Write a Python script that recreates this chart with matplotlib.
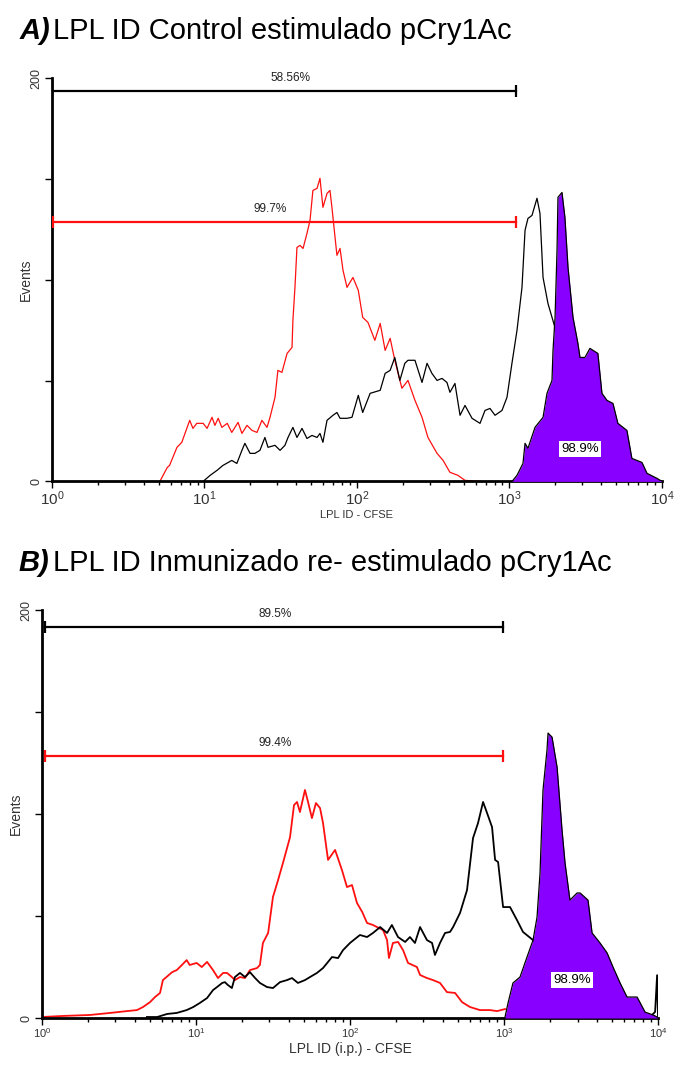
import numpy as np
import matplotlib
matplotlib.use("Agg")
import matplotlib.pyplot as plt

plt.rcParams['font.family'] = ['Liberation Sans', 'DejaVu Sans']
plt.rcParams['mathtext.fontset'] = 'custom'
plt.rcParams['mathtext.rm'] = 'Liberation Sans'
plt.rcParams['mathtext.it'] = 'Liberation Sans:italic'

PURPLE = '#8800ff'
RED = '#ff1010'

# ---- Panel A: LPL ID Control estimulado pCry1Ac ----
a_red_x = [5.1, 5.7, 5.9, 6.6, 7.1, 7.7, 8.0, 8.4, 8.9, 9.8, 10.4, 11.2, 11.7, 12.3, 13.0,
           14.1, 15.1, 16.6, 17.6, 19.0, 20.5, 22.1, 23.8, 25.7, 26.9, 29.0, 30.3, 32.2,
           34.8, 37.5, 38.0, 39.2, 40.4, 42.3, 44.3, 47.0, 49.2, 51.4, 54.7, 57.2, 59.8,
           63.6, 66.5, 68.5, 71.8, 73.9, 77.4, 81.0, 86.0, 94.1, 102, 109, 118, 131, 142,
           153, 165, 177, 197, 216, 240, 267, 292, 335, 367, 407, 459, 511, 640]
a_red_y = [0, 6.9, 7.9, 16.9, 19.4, 26.8, 30.3, 26.3, 28.8, 28.8, 26.3, 31.8, 27.8, 31.3,
           26.8, 28.8, 24.3, 29.3, 23.8, 27.8, 25.3, 24.3, 30.3, 26.8, 31.8, 41.7, 55.1,
           54.1, 63.5, 66.5, 79.9, 96.3, 116.1, 117.1, 115.6, 123.1, 129.5, 144.4, 145.4,
           150.4, 136.0, 142.9, 144.4, 136.0, 121.1, 112.2, 115.6, 104.7, 96.3, 101.2, 94.8,
           81.4, 78.9, 70.0, 78.4, 65.0, 71.0, 60.1, 46.2, 50.1, 40.2, 31.8, 21.8, 13.9,
           10.4, 4.5, 3.0, 0.5, 0]

a_blk_x = [9.8, 10.9, 12.1, 13.2, 15.1, 16.3, 17.6, 18.4, 19.9, 21.4, 23.1, 24.9, 26.1,
           29.0, 31.3, 33.7, 35.3, 38.0, 40.4, 43.6, 47.0, 50.7, 54.7, 57.2, 59.8, 63.6,
           69.6, 73.9, 77.4, 86.0, 92.7, 102, 109, 122, 142, 153, 165, 177, 191, 206, 216,
           240, 267, 288, 310, 335, 361, 389, 407, 439, 474, 511, 568, 641, 691, 745, 804,
           893, 963, 1038, 1120, 1208, 1265, 1322, 1405, 1515, 1585, 1660, 1788, 1987, 2310,
           2900, 3640]
a_blk_y = [0, 3.0, 5.5, 7.9, 10.4, 8.9, 15.4, 18.9, 13.9, 13.9, 15.4, 21.8, 16.9, 17.9,
           15.4, 17.9, 21.8, 26.8, 21.8, 26.3, 21.3, 22.8, 21.8, 23.8, 19.4, 30.3, 32.8,
           34.2, 31.3, 31.3, 31.8, 42.7, 34.2, 43.7, 45.2, 53.6, 55.1, 61.5, 50.1, 58.6,
           60.1, 60.1, 49.1, 58.6, 53.6, 50.1, 51.1, 49.1, 44.2, 48.6, 32.8, 37.7, 31.3,
           28.8, 35.2, 36.2, 32.8, 35.2, 41.7, 58.6, 74.9, 96.3, 124.6, 130.5, 132.0, 140.5,
           133.0, 101.2, 88.3, 76.4, 30, 5, 0]

a_pur_x = [1040, 1120, 1226, 1265, 1322, 1470, 1660, 1762, 1900, 1930, 1990, 2050, 2080,
           2210, 2310, 2420, 2610, 2810, 2900, 3125, 3370, 3800, 4040, 4360, 4770, 5140,
           5890, 6350, 7390, 7980, 9270, 10000]
a_pur_y = [0, 3.0, 8.9, 18.9, 16.4, 26.8, 31.8, 43.7, 50.1, 65.0, 81.4, 114.6, 141.0, 143.4,
           131.0, 106.2, 81.4, 68.5, 61.5, 61.5, 66.0, 63.5, 43.7, 40.2, 38.7, 28.8, 25.3,
           11.4, 9.4, 4.0, 1.5, 0]

# gate: start, end, height, label, label x
a_gate_blk = (1.0, 1104, 193.5, '58.56%', 36.5)
a_gate_red = (1.02, 1110, 128.5, '99.7%', 27)
a_pur_label = ('98.9%', 2900, 16)

# ---- Panel B: LPL ID Inmunizado re- estimulado pCry1Ac ----
b_red_x = [1.0, 1.35, 2.05, 2.77, 3.56, 4.14, 4.53, 5.03, 5.42, 5.84, 6.1, 7.0, 7.5, 8.1,
           8.7, 9.1, 10.1, 10.9, 11.8, 12.9, 13.9, 15.0, 15.9, 17.1, 17.9, 19.3, 20.8, 22.4,
           24.9, 26.0, 27.2, 29.4, 31.6, 34.1, 36.7, 40.8, 43.3, 45.3, 47.3, 51.0, 53.4,
           56.6, 60.1, 63.9, 66.8, 72.0, 80.0, 88.7, 95.6, 103, 111, 120, 129, 141, 164,
           174, 179, 190, 205, 221, 238, 272, 285, 316, 346, 384, 426, 481, 534, 601, 698,
           811, 901, 1015]
b_red_y = [0.5, 1.0, 1.5, 2.5, 3.4, 3.9, 5.4, 7.8, 10.3, 12.3, 18.6, 22.5, 23.5, 26.0, 28.4,
           26.0, 27.0, 25.0, 27.5, 23.5, 19.6, 22.1, 22.1, 20.1, 18.6, 20.1, 19.6, 23.5,
           24.5, 26.0, 36.8, 41.7, 59.3, 67.6, 76.0, 88.7, 104.4, 105.9, 101.0, 111.8,
           105.9, 98.0, 105.4, 102.9, 95.6, 77.5, 82.4, 72.5, 64.2, 65.2, 56.4, 52.0, 46.6,
           45.6, 43.1, 38.2, 29.4, 36.8, 37.3, 33.3, 27.0, 25.0, 21.1, 19.6, 18.6, 17.2,
           12.7, 12.3, 7.8, 5.4, 3.9, 3.9, 3.4, 4.4]

b_blk_x = [4.8, 5.6, 6.5, 7.5, 8.7, 9.6, 10.6, 11.8, 12.9, 13.7, 14.8, 15.4, 16.1, 17.1,
           17.9, 19.3, 20.8, 22.4, 24.2, 26.0, 28.9, 31.6, 35.1, 39.0, 42.0, 45.9, 51.0,
           55.0, 61.0, 66.8, 76.4, 83.6, 90.1, 100, 116, 129, 141, 157, 174, 187, 205, 228,
           245, 264, 285, 316, 341, 356, 384, 414, 446, 467, 518, 575, 629, 678, 731, 776,
           836, 875, 915, 986, 1094, 1214, 1328, 1543, 1990, 2680, 4200, 8870, 9570, 9860,
           10000]
b_blk_y = [0.5, 0.5, 2.0, 2.5, 3.9, 5.4, 7.4, 9.8, 13.7, 15.2, 17.2, 17.6, 16.2, 14.7,
           20.1, 22.1, 20.1, 22.5, 19.6, 17.2, 15.2, 14.7, 17.6, 18.6, 19.6, 17.2, 18.6,
           20.1, 22.1, 24.5, 29.9, 29.4, 33.3, 36.8, 40.7, 39.7, 41.7, 44.6, 41.7, 45.6,
           39.7, 37.3, 39.7, 36.8, 44.6, 38.2, 36.8, 30.9, 36.8, 41.7, 42.2, 44.6, 51.5,
           62.7, 88.2, 95.6, 105.9, 100.5, 93.6, 77.5, 76.5, 54.4, 54.4, 48.0, 42.2, 38.2,
           23, 9, 1.5, 0.5, 3, 21, 0]

b_pur_x = [1015, 1062, 1143, 1270, 1410, 1543, 1638, 1713, 1791, 1901, 1931, 2050, 2210,
           2380, 2490, 2680, 2980, 3120, 3510, 3730, 4200, 4670, 5100, 5670, 6290, 7310,
           8240, 9290, 9860]
b_pur_y = [0.5, 7.4, 17.2, 20.1, 29.9, 38.2, 49.5, 71.1, 111.8, 131.4, 139.7, 137.7, 123.0,
           92.2, 76.0, 57.8, 61.3, 61.3, 57.8, 41.7, 36.8, 31.9, 25.0, 17.2, 10.3, 10.3,
           2.9, 1.5, 0.5]

b_gate_blk = (1.05, 990, 191.5, '89.5%', 32.6)
b_gate_red = (1.05, 990, 128.5, '99.4%', 32.6)
b_pur_label = ('98.9%', 2760, 18.6)

fig = plt.figure(figsize=(6.77, 10.65), dpi=100)


def draw_panel(ax, red, blk, pur, gates, pur_lab, lw, tick_fs, xlabel, xlabel_fs):
    ax.plot(red[0], red[1], color=RED, lw=lw, zorder=2)
    ax.plot(blk[0], blk[1], color='black', lw=lw, zorder=2)
    ax.fill_between(pur[0], pur[1], 0, color=PURPLE, lw=0, zorder=3)
    ax.plot(pur[0], pur[1], color='black', lw=0.9, zorder=4)
    for (x0, x1, y, lab, lx), col in zip(gates, ['black', RED]):
        ax.plot([x0, x1], [y, y], color=col, lw=1.6, zorder=5)
        ax.plot([x0, x1], [y, y], ls='none', marker='|', ms=8, mew=1.6, color=col, zorder=5)
        ax.text(lx, y + 3.5, lab, ha='center', va='bottom', fontsize=8.5, color='#222222')
    ax.text(pur_lab[1], pur_lab[2], pur_lab[0], ha='center', va='center', fontsize=9.5,
            zorder=6, bbox=dict(boxstyle='square,pad=0.15', fc='white', ec='none'))

    ax.set_xscale('log')
    ax.set_xlim(1, 1e4)
    ax.set_ylim(0, 200)
    for s in ['top', 'right']:
        ax.spines[s].set_visible(False)
    for s in ['left', 'bottom']:
        ax.spines[s].set_linewidth(2)
    ax.set_yticks([0, 50, 100, 150, 200])
    ax.set_yticklabels(['0', '', '', '', '200'], rotation=90, va='center', fontsize=9,
                       color='#333333')
    ax.tick_params(axis='y', length=5, width=1, pad=2)
    ax.set_xticks([1, 10, 100, 1000, 10000])
    ax.set_xticklabels([r'$10^{0}$', r'$10^{1}$', r'$10^{2}$', r'$10^{3}$', r'$10^{4}$'],
                       fontsize=tick_fs, color='#333333')
    ax.tick_params(axis='x', which='major', length=5, width=1, pad=1)
    ax.tick_params(axis='x', which='minor', length=3, width=1)
    ax.set_ylabel('Events', fontsize=10, color='#333333', labelpad=-2)
    ax.set_xlabel(xlabel, fontsize=xlabel_fs, color='#333333', labelpad=1)


axA = fig.add_axes([0.0768, 0.548, 0.901, 0.3784])
draw_panel(axA, (a_red_x, a_red_y), (a_blk_x, a_blk_y), (a_pur_x, a_pur_y),
           [a_gate_blk, a_gate_red], a_pur_label, 0.9, 11, 'LPL ID - CFSE', 8)

axB = fig.add_axes([0.062, 0.0441, 0.910, 0.3831])
draw_panel(axB, (b_red_x, b_red_y), (b_blk_x, b_blk_y), (b_pur_x, b_pur_y),
           [b_gate_blk, b_gate_red], b_pur_label, 1.3, 8, 'LPL ID (i.p.) - CFSE', 10)

fig.text(20 / 677, 1 - 39 / 1065, 'A)', fontsize=21, fontweight='bold', style='italic')
fig.text(53 / 677, 1 - 39 / 1065, 'LPL ID Control estimulado pCry1Ac', fontsize=21)
fig.text(18 / 677, 1 - 571 / 1065, 'B)', fontsize=21, fontweight='bold', style='italic')
fig.text(53 / 677, 1 - 571 / 1065, 'LPL ID Inmunizado re- estimulado pCry1Ac', fontsize=21)

fig.savefig('out.png', dpi=100)
